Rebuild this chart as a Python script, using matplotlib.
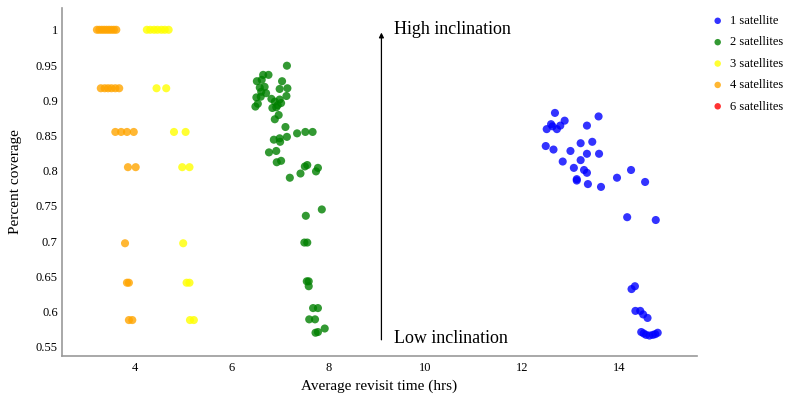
import matplotlib
matplotlib.use('Agg')
import matplotlib.pyplot as plt

plt.rcParams['font.family'] = ['Liberation Serif', 'DejaVu Serif']

# 1 satellite
sat1_x = [12.67, 13.57, 12.87, 12.59, 12.62, 12.78, 12.50, 12.71, 13.33, 12.48,
          12.64, 13.20, 13.44, 12.99, 13.33, 13.58, 12.83, 13.20, 13.06, 13.27,
          13.33, 14.24, 13.12, 13.12, 13.95, 13.35, 13.62, 14.53, 14.16, 14.75,
          14.32, 14.25, 14.33, 14.43, 14.49, 14.58, 14.45, 14.55, 14.69, 14.79,
          14.50, 14.62, 14.74]
sat1_y = [0.882, 0.877, 0.871, 0.866, 0.863, 0.864, 0.859, 0.859, 0.864, 0.835,
          0.830, 0.839, 0.841, 0.828, 0.824, 0.824, 0.813, 0.815, 0.804, 0.801,
          0.797, 0.801, 0.788, 0.786, 0.790, 0.781, 0.777, 0.784, 0.734, 0.730,
          0.636, 0.632, 0.601, 0.601, 0.596, 0.591, 0.571, 0.567, 0.567, 0.570,
          0.569, 0.566, 0.568]

# 2 satellites
sat2_x = [7.14, 6.65, 6.76, 6.52, 6.62, 7.04, 6.58, 6.68, 6.99, 7.15,
          6.61, 6.71, 7.13, 6.51, 6.60, 6.82, 6.99, 6.89, 6.54, 6.49,
          6.95, 7.02, 6.84, 6.92, 6.97, 6.89, 7.11, 6.87, 6.99, 7.00,
          7.14, 7.35, 7.52, 7.67, 6.77, 6.92, 6.93, 7.02, 7.20, 7.42,
          7.51, 7.56, 7.74, 7.78, 7.86, 7.53, 7.50, 7.56, 7.55, 7.59,
          7.59, 7.68, 7.78, 7.60, 7.72, 7.73, 7.78, 7.92]
sat2_y = [0.949, 0.936, 0.936, 0.927, 0.929, 0.927, 0.918, 0.919, 0.916, 0.917,
          0.912, 0.910, 0.906, 0.904, 0.905, 0.902, 0.901, 0.898, 0.895, 0.891,
          0.893, 0.896, 0.889, 0.890, 0.879, 0.873, 0.862, 0.844, 0.846, 0.841,
          0.848, 0.853, 0.855, 0.855, 0.826, 0.828, 0.812, 0.814, 0.790, 0.796,
          0.806, 0.808, 0.799, 0.804, 0.745, 0.736, 0.698, 0.698, 0.643, 0.643,
          0.636, 0.605, 0.605, 0.589, 0.589, 0.570, 0.571, 0.576]

# 3 satellites
sat3_x = [4.25, 4.32, 4.40, 4.47, 4.55, 4.62, 4.70, 4.45, 4.65, 4.81,
          5.05, 4.98, 5.13, 5.00, 5.07, 5.13, 5.14, 5.22]
sat3_y = [1.0, 1.0, 1.0, 1.0, 1.0, 1.0, 1.0, 0.917, 0.917, 0.855,
          0.855, 0.805, 0.805, 0.697, 0.641, 0.641, 0.588, 0.588]

# 4 satellites
sat4_x = [3.22, 3.27, 3.32, 3.37, 3.42, 3.47, 3.52, 3.57, 3.62, 3.30,
          3.38, 3.45, 3.52, 3.60, 3.68, 3.60, 3.72, 3.84, 3.98, 3.86,
          4.02, 3.80, 3.84, 3.88, 3.88, 3.95]
sat4_y = [1.0, 1.0, 1.0, 1.0, 1.0, 1.0, 1.0, 1.0, 1.0, 0.917,
          0.917, 0.917, 0.917, 0.917, 0.917, 0.855, 0.855, 0.855, 0.855, 0.805,
          0.805, 0.697, 0.641, 0.641, 0.588, 0.588]

# 6 satellites (no visible points)
sat6_x = []
sat6_y = []

series = [
    ('1 satellite', sat1_x, sat1_y, 'blue'),
    ('2 satellites', sat2_x, sat2_y, 'green'),
    ('3 satellites', sat3_x, sat3_y, 'yellow'),
    ('4 satellites', sat4_x, sat4_y, 'orange'),
    ('6 satellites', sat6_x, sat6_y, 'red'),
]

fig = plt.figure(figsize=(7.87, 3.97), dpi=100)
ax = fig.add_axes([0.0788, 0.1033, 0.8068, 0.8767])

for label, xs, ys, col in series:
    ax.scatter(xs, ys, s=34, color=col, alpha=0.8, edgecolors='none', label=label)

ax.set_xlim(2.5, 15.6)
ax.set_ylim(0.537, 1.031)
ax.set_xticks([4, 6, 8, 10, 12, 14])
ax.set_yticks([0.55, 0.6, 0.65, 0.7, 0.75, 0.8, 0.85, 0.9, 0.95, 1.0])
ax.set_yticklabels(['0.55', '0.6', '0.65', '0.7', '0.75', '0.8', '0.85', '0.9', '0.95', '1'])
ax.tick_params(length=0, labelsize=9)
ax.tick_params(axis='x', pad=4)
ax.tick_params(axis='y', pad=3)

for s in ['top', 'right']:
    ax.spines[s].set_visible(False)
for s in ['left', 'bottom']:
    ax.spines[s].set_color('#999999')
    ax.spines[s].set_linewidth(1.2)

ax.set_xlabel('Average revisit time (hrs)', fontsize=11, labelpad=4)
ax.set_ylabel('Percent coverage', fontsize=11, labelpad=10)

# inclination arrow
ax.annotate('', xy=(9.09, 1.0), xytext=(9.09, 0.556),
            arrowprops=dict(arrowstyle='-|>', color='black', lw=0.9, mutation_scale=7))
ax.text(9.35, 1.0, 'High inclination', fontsize=13, va='center', ha='left')
ax.text(9.35, 0.562, 'Low inclination', fontsize=13, va='center', ha='left')

fig.legend(loc='upper left', bbox_to_anchor=(0.904, 0.962), frameon=False,
           fontsize=9, markerscale=0.8, handlelength=1.0, handletextpad=0.45,
           labelspacing=0.75, borderpad=0, borderaxespad=0, scatterpoints=1)

fig.savefig('out.png', dpi=100)
